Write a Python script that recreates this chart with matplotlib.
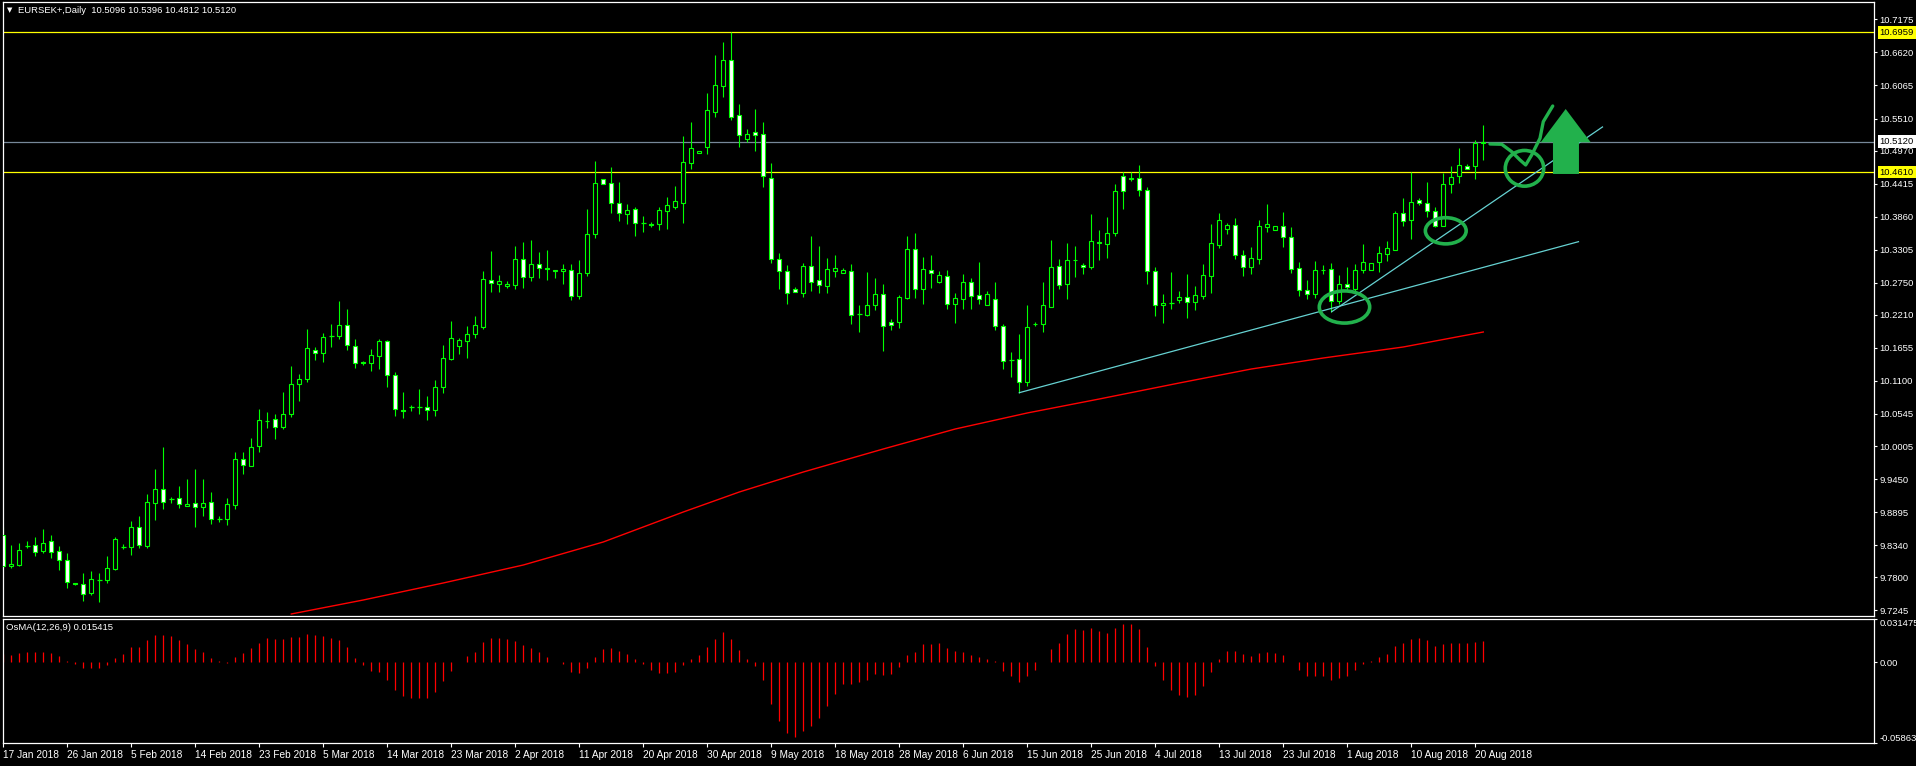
import numpy as np
import matplotlib
matplotlib.use("Agg")
import matplotlib.pyplot as plt
from matplotlib.patches import Ellipse, Polygon

plt.rcParams['font.family'] = ['Liberation Sans', 'DejaVu Sans']

# daily candles, bar 0 = 17 Jan 2018
opens = np.array([
    9.8510, 9.7989, 9.8011, 9.8320, 9.8337, 9.8247, 9.8404, 9.8236, 9.8085, 9.7700,
    9.7687, 9.7541, 9.7759, 9.7749, 9.7939, 9.8314, 9.8303, 9.8640, 9.8330, 9.9053,
    9.9278, 9.9115, 9.9127, 9.9003, 9.9043, 9.8976, 9.9060, 9.8779, 9.8774, 9.9009,
    9.9783, 9.9675, 10.0001, 10.0431, 10.0455, 10.0330, 10.0539, 10.1043, 10.1127, 10.1614,
    10.1564, 10.1850, 10.1850, 10.2035, 10.1682, 10.1410, 10.1396, 10.1524, 10.1771, 10.1194,
    10.0615, 10.0667, 10.0657, 10.0657, 10.0606, 10.0993, 10.1473, 10.1692, 10.1776, 10.1894,
    10.2011, 10.2801, 10.2734, 10.2690, 10.2717, 10.3144, 10.2841, 10.3060, 10.2990, 10.2969,
    10.2942, 10.2969, 10.2522, 10.2919, 10.3564, 10.4489, 10.4421, 10.4085, 10.3910, 10.3984,
    10.3749, 10.3735, 10.3732, 10.3961, 10.4028, 10.4095, 10.4757, 10.4926, 10.5037, 10.5625,
    10.6062, 10.6489, 10.5564, 10.5171, 10.5279, 10.5245, 10.4505, 10.3144, 10.2942, 10.2640,
    10.2583, 10.3026, 10.2791, 10.2700, 10.2952, 10.2919, 10.2942, 10.2220, 10.2213, 10.2381,
    10.2556, 10.2085, 10.2090, 10.2498, 10.3312, 10.2650, 10.2959, 10.2768, 10.2858, 10.2398,
    10.2482, 10.2758, 10.2539, 10.2381, 10.2472, 10.2018, 10.1446, 10.1463, 10.1087, 10.2062,
    10.2062, 10.2347, 10.3026, 10.2734, 10.3137, 10.3043, 10.3020, 10.3428, 10.3406, 10.3591,
    10.4544, 10.4504, 10.4505, 10.4304, 10.2942, 10.2371, 10.2404, 10.2455, 10.2505, 10.2421,
    10.2532, 10.2868, 10.3389, 10.3648, 10.3715, 10.3211, 10.3020, 10.3154, 10.3682, 10.3631,
    10.3699, 10.3514, 10.2993, 10.2623, 10.2556, 10.2969, 10.2976, 10.2438, 10.2724, 10.2645,
    10.2969, 10.2969, 10.3104, 10.3238, 10.3305, 10.3917, 10.3800, 10.4136, 10.4085, 10.3951,
    10.3709, 10.4405, 10.4539, 10.4712, 10.4707, 10.5096])

highs = np.array([
    9.8645, 9.8342, 9.8376, 9.8409, 9.8477, 9.8611, 9.8510, 9.8326, 9.8208, 9.7712,
    9.7872, 9.7905, 9.7872, 9.8157, 9.8482, 9.8359, 9.8746, 9.8830, 9.9199, 9.9620,
    9.9989, 9.9154, 9.9334, 9.9451, 9.9620, 9.9451, 9.9233, 9.8830, 9.9132, 9.9905,
    9.9905, 10.0141, 10.0628, 10.0577, 10.0544, 10.0914, 10.1351, 10.1216, 10.1972, 10.1670,
    10.1905, 10.2057, 10.2443, 10.2309, 10.1804, 10.1435, 10.1637, 10.1804, 10.1788, 10.1250,
    10.0914, 10.0695, 10.0964, 10.0846, 10.1115, 10.1704, 10.2107, 10.1821, 10.2023, 10.2191,
    10.2947, 10.3283, 10.2880, 10.2779, 10.3368, 10.3435, 10.3468, 10.3267, 10.3300, 10.2969,
    10.3065, 10.3065, 10.3132, 10.3989, 10.4796, 10.4489, 10.4695, 10.4443, 10.4073, 10.4023,
    10.3872, 10.3776, 10.4023, 10.4191, 10.4376, 10.5216, 10.5452, 10.4969, 10.5939, 10.6578,
    10.6796, 10.6959, 10.5754, 10.5334, 10.5670, 10.5452, 10.4757, 10.3245, 10.3048, 10.2678,
    10.3082, 10.3536, 10.3368, 10.3166, 10.3216, 10.2998, 10.3065, 10.2376, 10.2931, 10.2830,
    10.2729, 10.2136, 10.2544, 10.3541, 10.3586, 10.3177, 10.3216, 10.2942, 10.2964, 10.2578,
    10.2897, 10.2830, 10.3099, 10.2611, 10.2762, 10.2052, 10.1586, 10.1889, 10.2376, 10.2090,
    10.2762, 10.3468, 10.3149, 10.3418, 10.3368, 10.3077, 10.3905, 10.3637, 10.3855, 10.4410,
    10.4611, 10.4611, 10.4729, 10.4354, 10.3015, 10.2561, 10.2926, 10.2606, 10.2897, 10.2695,
    10.3065, 10.3737, 10.3922, 10.3749, 10.3838, 10.3300, 10.3351, 10.3805, 10.4073, 10.3699,
    10.3939, 10.3687, 10.3094, 10.2791, 10.3115, 10.3048, 10.3082, 10.2875, 10.3015, 10.3065,
    10.3401, 10.3082, 10.3368, 10.3447, 10.3961, 10.4174, 10.4611, 10.4174, 10.4443, 10.4028,
    10.4599, 10.4712, 10.5015, 10.4741, 10.5149, 10.5396])

lows = np.array([
    9.7956, 9.7961, 9.7994, 9.8297, 9.8162, 9.8213, 9.8129, 9.7927, 9.7625, 9.7670,
    9.7401, 9.7502, 9.7384, 9.7704, 9.7922, 9.8275, 9.8174, 9.8297, 9.8297, 9.8762,
    9.8947, 9.9053, 9.8969, 9.9003, 9.8650, 9.8835, 9.8700, 9.8729, 9.8683, 9.8952,
    9.9541, 9.9665, 9.9910, 10.0314, 10.0129, 10.0297, 10.0499, 10.0768, 10.1087, 10.1457,
    10.1423, 10.1675, 10.1810, 10.1620, 10.1322, 10.1367, 10.1272, 10.1305, 10.1003, 10.0515,
    10.0482, 10.0599, 10.0544, 10.0443, 10.0515, 10.0902, 10.1457, 10.1552, 10.1490, 10.1826,
    10.1973, 10.2594, 10.2594, 10.2667, 10.2645, 10.2667, 10.2784, 10.2830, 10.2796, 10.2835,
    10.2734, 10.2460, 10.2477, 10.2863, 10.3507, 10.4401, 10.3927, 10.3793, 10.3742, 10.3541,
    10.3608, 10.3682, 10.3641, 10.3658, 10.3994, 10.3759, 10.4662, 10.4926, 10.4919, 10.5541,
    10.5877, 10.5490, 10.5037, 10.5115, 10.4969, 10.4364, 10.3077, 10.2650, 10.2398, 10.2589,
    10.2515, 10.2616, 10.2583, 10.2583, 10.2851, 10.2919, 10.2057, 10.1922, 10.2191, 10.2292,
    10.1603, 10.1956, 10.1989, 10.2472, 10.2493, 10.2398, 10.2667, 10.2751, 10.2314, 10.2079,
    10.2314, 10.2314, 10.2398, 10.2381, 10.1961, 10.1300, 10.1171, 10.0902, 10.1020, 10.2028,
    10.1922, 10.2347, 10.2650, 10.2482, 10.2846, 10.2902, 10.2986, 10.3132, 10.3171, 10.3536,
    10.3994, 10.4455, 10.4213, 10.2734, 10.2196, 10.2079, 10.2309, 10.2404, 10.2162, 10.2297,
    10.2477, 10.2583, 10.3339, 10.3574, 10.3154, 10.2863, 10.2897, 10.3065, 10.3608, 10.3631,
    10.3356, 10.2909, 10.2532, 10.2472, 10.2498, 10.2892, 10.2258, 10.2393, 10.2628, 10.2599,
    10.2919, 10.2969, 10.2936, 10.3120, 10.3305, 10.3704, 10.3490, 10.4057, 10.3860, 10.3687,
    10.3704, 10.4263, 10.4431, 10.4667, 10.4489, 10.4812])

closes = np.array([
    9.7989, 9.8023, 9.8253, 9.8320, 9.8230, 9.8371, 9.8230, 9.8085, 9.7725, 9.7685,
    9.7524, 9.7766, 9.7759, 9.7951, 9.8438, 9.8314, 9.8640, 9.8347, 9.9060, 9.9278,
    9.9070, 9.9115, 9.9026, 9.9036, 9.8976, 9.9043, 9.8784, 9.8779, 9.9026, 9.9783,
    9.9682, 9.9989, 10.0438, 10.0420, 10.0330, 10.0539, 10.1048, 10.1127, 10.1648, 10.1564,
    10.1833, 10.1850, 10.2035, 10.1698, 10.1396, 10.1400, 10.1531, 10.1771, 10.1194, 10.0623,
    10.0600, 10.0667, 10.0657, 10.0606, 10.0993, 10.1480, 10.1816, 10.1788, 10.1884, 10.2035,
    10.2808, 10.2741, 10.2774, 10.2724, 10.3144, 10.2841, 10.3060, 10.2998, 10.2980, 10.2942,
    10.2976, 10.2522, 10.2909, 10.3564, 10.4421, 10.4405, 10.4085, 10.3917, 10.3967, 10.3749,
    10.3749, 10.3718, 10.3967, 10.4051, 10.4119, 10.4774, 10.5010, 10.4969, 10.5648, 10.6068,
    10.6489, 10.5541, 10.5228, 10.5245, 10.5238, 10.4539, 10.3144, 10.2942, 10.2572, 10.2589,
    10.3026, 10.2768, 10.2707, 10.2976, 10.2993, 10.2964, 10.2213, 10.2220, 10.2371, 10.2556,
    10.2028, 10.2045, 10.2510, 10.3312, 10.2640, 10.2976, 10.2909, 10.2875, 10.2398, 10.2489,
    10.2758, 10.2532, 10.2472, 10.2556, 10.2018, 10.1440, 10.1446, 10.1077, 10.2001, 10.2052,
    10.2371, 10.3009, 10.2717, 10.3127, 10.3127, 10.3009, 10.3447, 10.3418, 10.3581, 10.4287,
    10.4287, 10.4494, 10.4304, 10.2942, 10.2371, 10.2404, 10.2404, 10.2505, 10.2421, 10.2539,
    10.2875, 10.3413, 10.3800, 10.3715, 10.3221, 10.3020, 10.3161, 10.3699, 10.3732, 10.3699,
    10.3514, 10.2976, 10.2623, 10.2556, 10.2959, 10.2959, 10.2438, 10.2724, 10.2673, 10.2959,
    10.3094, 10.3082, 10.3245, 10.3329, 10.3917, 10.3783, 10.4102, 10.4085, 10.3951, 10.3709,
    10.4405, 10.4522, 10.4724, 10.4667, 10.5099, 10.5120])

# OsMA(12,26,9) histogram
osma = np.array([
    0.0058, 0.0048, 0.0063, 0.0072, 0.0070, 0.0070, 0.0063, 0.0043, 0.0007, -0.0017,
    -0.0046, -0.0046, -0.0046, -0.0022, 0.0026, 0.0058, 0.0106, 0.0106, 0.0156, 0.0193,
    0.0193, 0.0185, 0.0156, 0.0130, 0.0091, 0.0072, 0.0026, 0.0005, -0.0005, 0.0034,
    0.0063, 0.0099, 0.0140, 0.0171, 0.0168, 0.0168, 0.0178, 0.0178, 0.0200, 0.0193,
    0.0188, 0.0171, 0.0156, 0.0106, 0.0031, -0.0022, -0.0063, -0.0075, -0.0128, -0.0205,
    -0.0248, -0.0262, -0.0262, -0.0262, -0.0219, -0.0140, -0.0063, 0.0002, 0.0043, 0.0072,
    0.0142, 0.0171, 0.0171, 0.0166, 0.0154, 0.0123, 0.0099, 0.0072, 0.0034, 0.0000,
    -0.0014, -0.0072, -0.0079, -0.0043, 0.0034, 0.0091, 0.0099, 0.0077, 0.0055, 0.0019,
    -0.0017, -0.0060, -0.0079, -0.0079, -0.0072, -0.0022, 0.0019, 0.0048, 0.0106, 0.0164,
    0.0214, 0.0164, 0.0084, 0.0019, -0.0029, -0.0132, -0.0306, -0.0428, -0.0515, -0.0541,
    -0.0501, -0.0462, -0.0404, -0.0318, -0.0233, -0.0161, -0.0159, -0.0147, -0.0130, -0.0089,
    -0.0094, -0.0087, -0.0039, 0.0048, 0.0072, 0.0128, 0.0130, 0.0135, 0.0099, 0.0077,
    0.0072, 0.0048, 0.0034, 0.0024, 0.0007, -0.0067, -0.0099, -0.0144, -0.0103, -0.0058,
    0.0002, 0.0091, 0.0140, 0.0202, 0.0236, 0.0229, 0.0243, 0.0226, 0.0212, 0.0243,
    0.0272, 0.0272, 0.0236, 0.0106, -0.0029, -0.0130, -0.0202, -0.0241, -0.0253, -0.0236,
    -0.0173, -0.0075, 0.0019, 0.0077, 0.0077, 0.0055, 0.0043, 0.0065, 0.0072, 0.0063,
    0.0048, 0.0000, -0.0058, -0.0101, -0.0101, -0.0101, -0.0130, -0.0118, -0.0101, -0.0058,
    -0.0017, 0.0007, 0.0034, 0.0058, 0.0113, 0.0137, 0.0166, 0.0171, 0.0156, 0.0113,
    0.0130, 0.0137, 0.0140, 0.0135, 0.0147, 0.0154])

# red moving average, read at a few bars
ma_bars = [36, 45, 55, 65, 75, 85, 92, 100, 110, 119, 128, 137, 147, 156, 165, 175, 185]
ma_vals = [9.7183, 9.7418, 9.7704, 9.8006, 9.8393, 9.8897, 9.9233, 9.9569, 9.9956,
           10.0292, 10.0561, 10.0796, 10.1065, 10.1300, 10.1485, 10.1670, 10.1922]

# drawn objects
yellow_levels = [10.6959, 10.4610]
bid_price = 10.5120
trend1 = ([127.0, 196.9], [10.0902, 10.3440])
trend2 = ([166.05, 199.9], [10.2263, 10.5368])

price_ticks = [10.7175, 10.6620, 10.6065, 10.5510, 10.4970, 10.4415, 10.3860, 10.3305,
               10.2750, 10.2210, 10.1655, 10.1100, 10.0545, 10.0005, 9.9450, 9.8895,
               9.8340, 9.7800, 9.7245]
date_labels = ['17 Jan 2018', '26 Jan 2018', '5 Feb 2018', '14 Feb 2018', '23 Feb 2018',
               '5 Mar 2018', '14 Mar 2018', '23 Mar 2018', '2 Apr 2018', '11 Apr 2018',
               '20 Apr 2018', '30 Apr 2018', '9 May 2018', '18 May 2018', '28 May 2018',
               '6 Jun 2018', '15 Jun 2018', '25 Jun 2018', '4 Jul 2018', '13 Jul 2018',
               '23 Jul 2018', '1 Aug 2018', '10 Aug 2018', '20 Aug 2018']
date_bars = list(range(0, 185, 8))

W, H = 1916, 766
fig = plt.figure(figsize=(W / 100, H / 100), dpi=100, facecolor='black')
ax1 = fig.add_axes([2.7 / W, 1 - 616 / H, (1874 - 2.7) / W, (616 - 2.3) / H])
ax2 = fig.add_axes([2.7 / W, 1 - 743.3 / H, (1874 - 2.7) / W, (743.3 - 618.5) / H])

green = '#00ff00'
paint = '#22b14c'

for ax in (ax1, ax2):
    ax.set_facecolor('black')
    ax.set_xlim(-0.075, 233.84)
    for s in ax.spines.values():
        s.set_color('white')
        s.set_linewidth(0.9)

ax1.set_ylim(9.7149, 10.7463)
ax2.set_ylim(-0.05863, 0.031475)

# horizontal lines
for lv in yellow_levels:
    ax1.axhline(lv, color='#ffff00', lw=0.9, zorder=1)
ax1.axhline(bid_price, color='#778899', lw=0.9, zorder=1)

# candles
x = np.arange(len(opens))
ax1.vlines(x, lows, highs, colors=green, lw=0.8, zorder=2)
bull = closes > opens
bear = closes < opens
doji = closes == opens
ax1.bar(x[bull], (closes - opens)[bull], bottom=opens[bull], width=0.55,
        color='black', edgecolor=green, linewidth=0.8, zorder=3)
ax1.bar(x[bear], (opens - closes)[bear], bottom=closes[bear], width=0.55,
        color='white', edgecolor=green, linewidth=0.8, zorder=3)
ax1.hlines(opens[doji], x[doji] - 0.3, x[doji] + 0.3, colors=green, lw=0.9, zorder=3)

# MA and trend lines
ax1.plot(ma_bars, ma_vals, color='#ff0000', lw=1.0, zorder=2)
ax1.plot(*trend1, color='#66d2d2', lw=0.9, zorder=2)
ax1.plot(*trend2, color='#66d2d2', lw=0.9, zorder=2)

# hand drawn marks
ax1.add_patch(Ellipse((167.65, 10.2342), 6.3, 0.054, fill=False, ec=paint, lw=2.6, zorder=5))
ax1.add_patch(Ellipse((180.31, 10.3623), 5.1, 0.044, fill=False, ec=paint, lw=2.6, zorder=5))
ax1.add_patch(Ellipse((190.15, 10.4673), 4.8, 0.060, fill=False, ec=paint, lw=2.6, zorder=5))
check_x = [185.84, 187.3, 188.55, 189.59, 190.3, 191.05, 192.09, 192.5, 193.13, 193.68]
check_y = [10.5082, 10.5077, 10.4952, 10.4813, 10.4729, 10.4897, 10.5178, 10.5457, 10.5598, 10.5720]
ax1.plot(check_x, check_y, color=paint, lw=2.4, solid_capstyle='round', zorder=5)
arrow = [(195.3, 10.5670), (198.43, 10.5110), (196.96, 10.5110), (196.96, 10.4578),
         (193.71, 10.4578), (193.71, 10.5110), (192.18, 10.5110)]
ax1.add_patch(Polygon(arrow, closed=True, fc=paint, ec='none', zorder=5))

# price axis
ax1.yaxis.tick_right()
ax1.set_yticks(price_ticks)
ax1.set_yticklabels(['%.4f' % v for v in price_ticks])
ax1.tick_params(axis='y', colors='white', length=2.5, width=0.8, pad=1.5, labelsize=6.8)
ax1.tick_params(axis='x', bottom=False, labelbottom=False)

lab_x = 1 + 5.6 / 1871.3
for lv in yellow_levels:
    ax1.text(lab_x, lv, '%.4f' % lv, transform=ax1.get_yaxis_transform(), color='black',
             size=6.8, va='center', ha='left', clip_on=False, zorder=6,
             bbox=dict(boxstyle='square,pad=0.2', fc='#ffff00', ec='none'))
ax1.text(lab_x, bid_price, '%.4f' % bid_price, transform=ax1.get_yaxis_transform(),
         color='black', size=6.8, va='center', ha='left', clip_on=False, zorder=6,
         bbox=dict(boxstyle='square,pad=0.2', fc='white', ec='none'))

# OsMA panel
ax2.vlines(x, 0, osma, colors='#ff0000', lw=0.9)
ax2.yaxis.tick_right()
ax2.set_yticks([0.031475, 0.0, -0.05863])
ax2.set_yticklabels(['0.031475', '0.00', '-0.05863'])
ax2.tick_params(axis='y', colors='white', length=2.5, width=0.8, pad=1.5, labelsize=6.8)
ylabs = ax2.get_yticklabels()
ylabs[0].set_va('top')
ylabs[2].set_va('bottom')
ax2.set_xticks(date_bars)
ax2.set_xticklabels(date_labels)
ax2.tick_params(axis='x', colors='white', length=3, width=0.8, pad=1.5, labelsize=7.3)
for t in ax2.get_xticklabels():
    t.set_ha('left')

# header texts
fig.text(7 / W, 1 - 10.5 / H, '\u25bc', color='white', size=5, va='center', family='DejaVu Sans')
fig.text(18 / W, 1 - 10.7 / H, 'EURSEK+,Daily  10.5096 10.5396 10.4812 10.5120',
         color='white', size=6.8, va='center')
fig.text(6 / W, 1 - 627 / H, 'OsMA(12,26,9) 0.015415', color='white', size=6.8, va='center')

fig.savefig('out.png', dpi=100, facecolor='black')
